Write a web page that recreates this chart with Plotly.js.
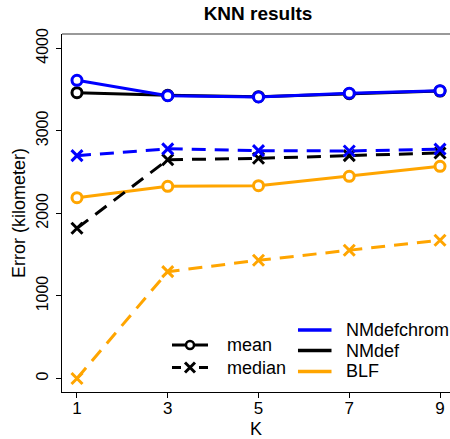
<!DOCTYPE html>
<html>
<head>
<meta charset="utf-8">
<script src="https://cdn.plot.ly/plotly-3.0.1.min.js"></script>
<style>html,body{margin:0;padding:0;background:#fff;}#chart{width:450px;height:439px;}</style>
</head>
<body>
<div id="chart"></div>
<script>
// ---- data ----
const K = [1, 3, 5, 7, 9];
const nmdefchromMean   = [3612, 3426, 3410, 3455, 3486];
const nmdefMean        = [3462, 3430, 3414, 3450, 3482];
const blfMean          = [2190, 2328, 2336, 2449, 2570];
const nmdefchromMedian = [2699, 2782, 2760, 2756, 2778];
const nmdefMedian      = [1819, 2650, 2667, 2699, 2732];
const blfMedian        = [0, 1294, 1432, 1553, 1674];
const yTicks = [0, 1000, 2000, 3000, 4000];
const xTicks = [1, 3, 5, 7, 9];

const BLUE = '#0000FF', BLACK = '#000000', ORANGE = '#FFA500';
const FONT = 'Liberation Sans, Arial, sans-serif';
const DASH = '14px,9px';

function meanTrace(y, color) {
  return {x: K, y: y, type: 'scatter', mode: 'lines+markers', showlegend: false, hoverinfo: 'skip',
    line: {color: color, width: 3},
    marker: {symbol: 'circle', size: 10, color: '#ffffff', line: {color: color, width: 3}}};
}
function medianTrace(y, color) {
  return {x: K, y: y, type: 'scatter', mode: 'lines+markers', showlegend: false, hoverinfo: 'skip',
    line: {color: color, width: 3, dash: DASH},
    marker: {symbol: 'x-thin', size: 11, color: color, line: {color: color, width: 3}}};
}

const data = [
  meanTrace(blfMean, ORANGE), medianTrace(blfMedian, ORANGE),
  meanTrace(nmdefMean, BLACK), medianTrace(nmdefMedian, BLACK),
  meanTrace(nmdefchromMean, BLUE), medianTrace(nmdefchromMedian, BLUE)
];

// ---- manual legend (paper coordinates) ----
const legL = {x0: 0.2835, x1: 0.3763, xm: 0.3299, yMean: 0.1313, yMedian: 0.0684, xt: 0.4201};
const legR = {x0: 0.6082, x1: 0.6946, ys: [0.1732, 0.1159, 0.0573], xt: 0.727};
const legNames = ['NMdefchrom', 'NMdef', 'BLF'];
const legColors = [BLUE, BLACK, ORANGE];

const shapes = [
  {type: 'line', xref: 'paper', yref: 'paper', x0: 0, x1: 1, y0: 1, y1: 1, line: {color: '#777777', width: 1.5}},
  // mean sample
  {type: 'line', xref: 'paper', yref: 'paper', x0: legL.x0, x1: legL.x1, y0: legL.yMean, y1: legL.yMean, line: {color: BLACK, width: 3}},
  {type: 'circle', xref: 'paper', yref: 'paper', xsizemode: 'pixel', ysizemode: 'pixel',
   xanchor: legL.xm, yanchor: legL.yMean, x0: -4, x1: 4, y0: -4, y1: 4,
   fillcolor: '#ffffff', line: {color: BLACK, width: 2.5}},
  // median sample
  {type: 'line', xref: 'paper', yref: 'paper', x0: legL.x0, x1: legL.x1, y0: legL.yMedian, y1: legL.yMedian, line: {color: BLACK, width: 3, dash: '9px,18px'}},
  {type: 'line', xref: 'paper', yref: 'paper', xsizemode: 'pixel', ysizemode: 'pixel',
   xanchor: legL.xm, yanchor: legL.yMedian, x0: -5, x1: 5, y0: -5, y1: 5, line: {color: BLACK, width: 3}},
  {type: 'line', xref: 'paper', yref: 'paper', xsizemode: 'pixel', ysizemode: 'pixel',
   xanchor: legL.xm, yanchor: legL.yMedian, x0: -5, x1: 5, y0: 5, y1: -5, line: {color: BLACK, width: 3}}
];
legNames.forEach((n, i) => {
  shapes.push({type: 'line', xref: 'paper', yref: 'paper', x0: legR.x0, x1: legR.x1, y0: legR.ys[i], y1: legR.ys[i],
    line: {color: legColors[i], width: 3.5}});
});

const annFont = {family: FONT, size: 18, color: '#000'};
const annotations = [
  {xref: 'paper', yref: 'paper', x: legL.xt, y: legL.yMean, text: 'mean', showarrow: false, xanchor: 'left', yanchor: 'middle', font: annFont},
  {xref: 'paper', yref: 'paper', x: legL.xt, y: legL.yMedian, text: 'median', showarrow: false, xanchor: 'left', yanchor: 'middle', font: annFont}
];
legNames.forEach((n, i) => {
  annotations.push({xref: 'paper', yref: 'paper', x: legR.xt, y: legR.ys[i], text: n, showarrow: false,
    xanchor: 'left', yanchor: 'middle', font: annFont});
});

const layout = {
  width: 450, height: 439,
  margin: {l: 62, r: 0, t: 34, b: 47, pad: 0},
  paper_bgcolor: '#ffffff', plot_bgcolor: '#ffffff',
  showlegend: false,
  font: {family: FONT, color: '#000'},
  title: {text: 'KNN results', font: {family: FONT, size: 19, weight: 'bold', color: '#000'},
    xref: 'container', x: 258 / 450, xanchor: 'center', yref: 'container', y: 1 - 13 / 439, yanchor: 'middle'},
  xaxis: {
    range: [0.67, 9.22], tickvals: xTicks, ticktext: xTicks.map(String),
    showgrid: false, zeroline: false, showline: true, linecolor: '#000', linewidth: 1,
    ticks: 'outside', ticklen: 5, tickcolor: '#000', tickwidth: 1,
    tickfont: {family: FONT, size: 17}, ticklabelstandoff: -4,
    title: {text: 'K', font: {family: FONT, size: 18}, standoff: 5}
  },
  yaxis: {
    range: [-164, 4173], tickvals: yTicks, ticktext: yTicks.map(String),
    showgrid: false, zeroline: false, showline: true, linecolor: '#000', linewidth: 1,
    ticks: 'outside', ticklen: 5, tickcolor: '#000', tickwidth: 1, tickangle: -90,
    tickfont: {family: FONT, size: 16}, ticklabelstandoff: 2,
    title: {text: 'Error (kilometer)', font: {family: FONT, size: 18}, standoff: 3}
  },
  shapes: shapes,
  annotations: annotations
};

Plotly.newPlot('chart', data, layout, {displayModeBar: false, staticPlot: true});
</script>
</body>
</html>
